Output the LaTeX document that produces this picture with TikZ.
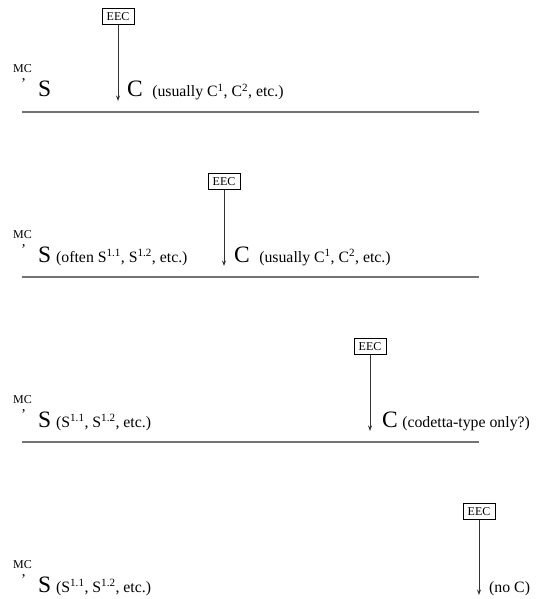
\documentclass[tikz,border=0pt]{standalone}
\usepackage{fontspec}
\setmainfont{Liberation Serif}
\usetikzlibrary{arrows.meta}
\begin{document}
\begin{tikzpicture}[x=1pt,y=-1pt,
  eecbox/.style={draw=black,line width=0.6pt,font=\fontsize{12}{12}\selectfont,inner xsep=4.5pt,inner ysep=4pt,text height=8.3pt,text depth=0pt},
  mclab/.style={anchor=base west,inner sep=0pt,font=\fontsize{12}{12}\selectfont},
  apos/.style={anchor=base west,inner sep=0pt,font=\fontsize{15}{15}\selectfont},
  big/.style={anchor=base west,inner sep=0pt,font=\fontsize{23.5}{23.5}\selectfont},
  small/.style={anchor=base west,inner sep=0pt,font=\fontsize{15.8}{15.8}\selectfont},
  arr/.style={draw=black!80,line width=0.8pt,-{Stealth[length=5.5pt,width=4pt]}},
  rule/.style={draw=black!55,line width=1.6pt}]
\useasboundingbox (0,0) rectangle (535,599);
% ---------- panel 1
\node[mclab] (mc1) at (13,73) {MC};
\node[apos] (ap1) at (21,89) {’};
\node[big] (s1) at (38,97) {S};
\node[eecbox] (e1) at (118,16.5) {EEC};
\coordinate (t1) at (118,101);
\draw[arr] (e1) -- (t1);
\node[big] (c1) at (127,97) {C};
\node[small] (u1) at (c1.base east) {\hspace{9pt}(usually C\textsuperscript{1}, C\textsuperscript{2}, etc.)};
\coordinate (l1a) at (22,112);
\coordinate (l1b) at (479,112);
\draw[rule] (l1a) -- (l1b);
% ---------- panel 2
\node[mclab] (mc2) at (13,238) {MC};
\node[apos] (ap2) at (21,254) {’};
\node[big] (s2) at (38,262) {S};
\node[small] (o2) at (s2.base east) {\hspace{4.5pt}(often S\textsuperscript{1.1}, S\textsuperscript{1.2}, etc.)};
\node[eecbox] (e2) at (224,181.5) {EEC};
\coordinate (t2) at (224,266);
\draw[arr] (e2) -- (t2);
\node[big] (c2) at (234,262) {C};
\node[small] (u2) at (c2.base east) {\hspace{9pt}(usually C\textsuperscript{1}, C\textsuperscript{2}, etc.)};
\coordinate (l2a) at (22,277);
\coordinate (l2b) at (479,277);
\draw[rule] (l2a) -- (l2b);
% ---------- panel 3
\node[mclab] (mc3) at (13,403) {MC};
\node[apos] (ap3) at (21,419) {’};
\node[big] (s3) at (38,427) {S};
\node[small] (o3) at (s3.base east) {\hspace{4.5pt}(S\textsuperscript{1.1}, S\textsuperscript{1.2}, etc.)};
\node[eecbox] (e3) at (370,346.5) {EEC};
\coordinate (t3) at (370,431);
\draw[arr] (e3) -- (t3);
\node[big] (c3) at (382,427) {C};
\node[small] (u3) at (c3.base east) {\hspace{4pt}(codetta-type only?)};
\coordinate (l3a) at (22,442);
\coordinate (l3b) at (479,442);
\draw[rule] (l3a) -- (l3b);
% ---------- panel 4
\node[mclab] (mc4) at (13,568) {MC};
\node[apos] (ap4) at (21,584) {’};
\node[big] (s4) at (38,592) {S};
\node[small] (o4) at (s4.base east) {\hspace{4.5pt}(S\textsuperscript{1.1}, S\textsuperscript{1.2}, etc.)};
\node[eecbox] (e4) at (479,511.5) {EEC};
\coordinate (t4) at (479,595);
\draw[arr] (e4) -- (t4);
\node[small] (n4) at (489,592) {(no C)};
\end{tikzpicture}
\end{document}
